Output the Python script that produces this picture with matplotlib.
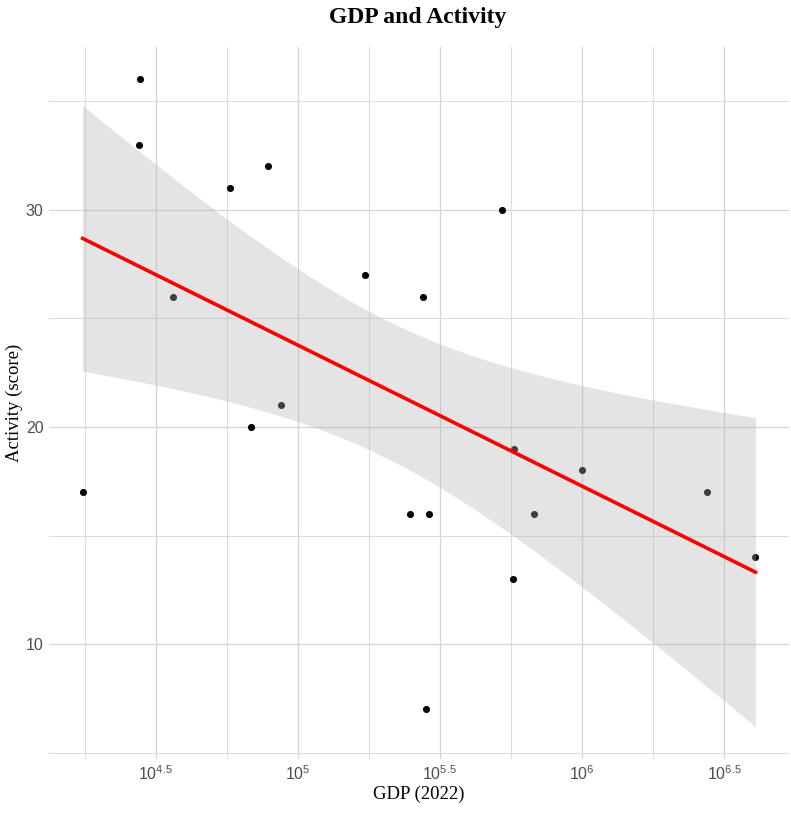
import numpy as np
import matplotlib
matplotlib.use("Agg")
import matplotlib.pyplot as plt
from matplotlib.ticker import FixedLocator, FuncFormatter

# Data (log10 GDP, activity score)
log_gdp = [4.243, 4.444, 4.44, 4.56, 4.76, 4.835, 4.894, 4.94, 5.236, 5.394,
           5.44, 5.46, 5.45, 5.72, 5.76, 5.757, 5.83, 6.0, 6.44, 6.61]
activity = [17, 36, 33, 26, 31, 20, 32, 21, 27, 16,
            26, 16, 7, 30, 19, 13, 16, 18, 17, 14]
x_major = [4.5, 5.0, 5.5, 6.0, 6.5]
x_minor = [4.25, 4.75, 5.25, 5.75, 6.25]
y_major = [10, 20, 30]
y_minor = [5, 15, 25, 35]

x = np.array(log_gdp)
y = np.array(activity)
n = len(x)

# OLS fit with 95% confidence band
b1, b0 = np.polyfit(x, y, 1)
xs = np.linspace(x.min(), x.max(), 200)
yhat = b0 + b1 * xs
resid = y - (b0 + b1 * x)
s = np.sqrt(np.sum(resid ** 2) / (n - 2))
sxx = np.sum((x - x.mean()) ** 2)
se = s * np.sqrt(1.0 / n + (xs - x.mean()) ** 2 / sxx)
tcrit = 2.100922  # t(0.975, df=18)
lo = yhat - tcrit * se
hi = yhat + tcrit * se

W, H = 791, 816
fig = plt.figure(figsize=(W / 100, H / 100), dpi=100)
ax = fig.add_axes([49 / W, (H - 759) / H, (789 - 49) / W, (759 - 47) / H])

ax.scatter(x, y, s=26, color="black", zorder=2, linewidths=0)
ax.fill_between(xs, lo, hi, color="#b4b4b4", alpha=0.35, linewidth=0, zorder=3)
ax.plot(xs, yhat, color="#ff0000", linewidth=2.6, zorder=4)

xr = x.max() - x.min()
ax.set_xlim(x.min() - 0.05 * xr, x.max() + 0.05 * xr)
ymin = min(y.min(), lo.min())
ymax = max(y.max(), hi.max())
yr = ymax - ymin
ax.set_ylim(ymin - 0.05 * yr, ymax + 0.05 * yr)

ax.xaxis.set_major_locator(FixedLocator(x_major))
ax.xaxis.set_minor_locator(FixedLocator(x_minor))
ax.yaxis.set_major_locator(FixedLocator(y_major))
ax.yaxis.set_minor_locator(FixedLocator(y_minor))

def fmt(v, pos):
    e = ("%g" % v)
    return r"$\mathregular{10^{%s}}$" % e

ax.xaxis.set_major_formatter(FuncFormatter(fmt))

ax.grid(True, which="major", color="#d4d4d4", linewidth=0.9)
ax.grid(True, which="minor", color="#dcdcdc", linewidth=0.8)
ax.set_axisbelow(True)
for sp in ax.spines.values():
    sp.set_visible(False)
ax.tick_params(which="both", length=0, colors="#4d4d4d", labelsize=11.5)
for lab in ax.get_xticklabels() + ax.get_yticklabels():
    lab.set_family("Liberation Sans")
ax.tick_params(axis="x", pad=4)
ax.tick_params(axis="y", pad=4)

ax.set_xlabel("GDP (2022)", family="Liberation Serif", fontsize=13.5, color="black", labelpad=2)
ax.set_ylabel("Activity (score)", family="Liberation Serif", fontsize=13.5, color="black", labelpad=2)
fig.text(418 / W, 1 - 18 / H, "GDP and Activity", family="Liberation Serif",
         fontweight="bold", fontsize=17, ha="center", va="center")

fig.savefig("out.png", dpi=100)
